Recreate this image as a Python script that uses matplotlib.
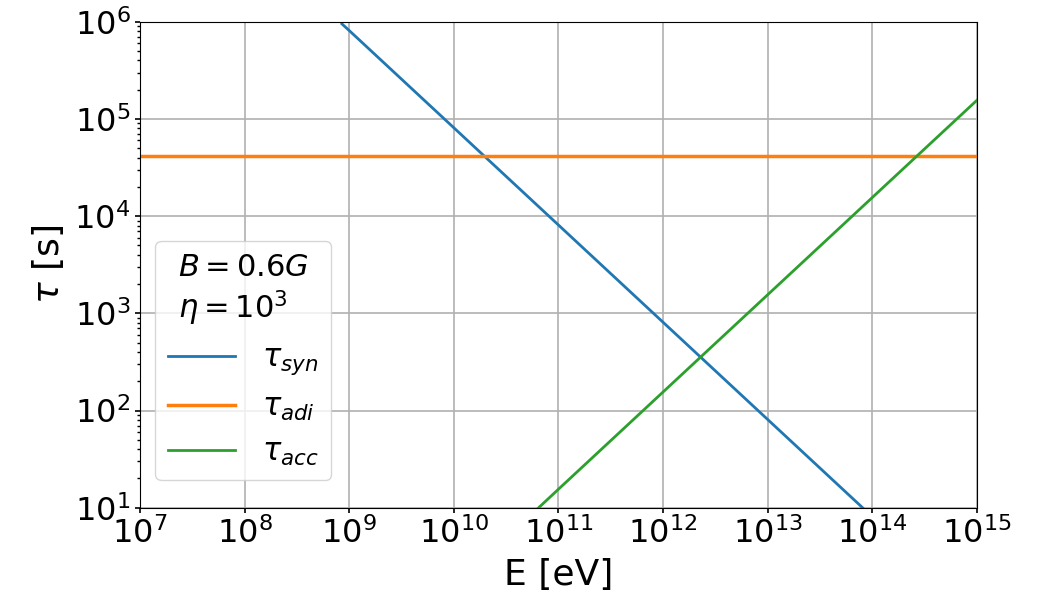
import matplotlib.pyplot as plt
import numpy as np

E_syn = [8.5e8, 1e9, 1e10, 1e11, 1e12, 1e13, 8.1e13]
tau_syn = [9.5e5, 8.1e5, 8.1e4, 8.1e3, 8.1e2, 8.1e1, 1.0e1]
E_adi = [1e7, 1e15]
tau_adi = [4.2e4, 4.2e4]
E_acc = [6.4e10, 1e11, 1e12, 1e13, 1e14, 1e15]
tau_acc = [9.9, 15.5, 1.55e2, 1.55e3, 1.55e4, 1.55e5]

fig = plt.figure(figsize=(10.38, 6.03), dpi=100)
ax = fig.add_axes([0.135, 0.158, 0.806, 0.806])
ax.plot(E_syn, tau_syn, color='C0', lw=2, label=r'$\tau_{syn}$')
ax.plot(E_adi, tau_adi, color='C1', lw=2.5, label=r'$\tau_{adi}$')
ax.plot(E_acc, tau_acc, color='C2', lw=2, label=r'$\tau_{acc}$')
ax.set_xscale('log')
ax.set_yscale('log')
ax.set_xlim(1e7, 1e15)
ax.set_ylim(1e1, 1e6)
ax.set_xticks([10.0**k for k in range(7, 16)])
ax.xaxis.set_minor_locator(plt.NullLocator())
ax.grid(True, which='major', color='#b0b0b0', lw=1.2)
ax.tick_params(labelsize=23, width=1.2)
ax.tick_params(which='minor', width=1.0)
ax.set_xlabel('E [eV]', fontsize=26, labelpad=6)
ax.set_ylabel(r'$\tau$ [s]', fontsize=26, labelpad=6)
leg = ax.legend(loc='lower left', fontsize=22, title='$B = 0.6G$\n$\\eta = 10^3$',
                title_fontsize=22, handlelength=2.2, handletextpad=0.9,
                bbox_to_anchor=(0.0, 0.025), borderaxespad=0.5)
plt.savefig('out.png')
